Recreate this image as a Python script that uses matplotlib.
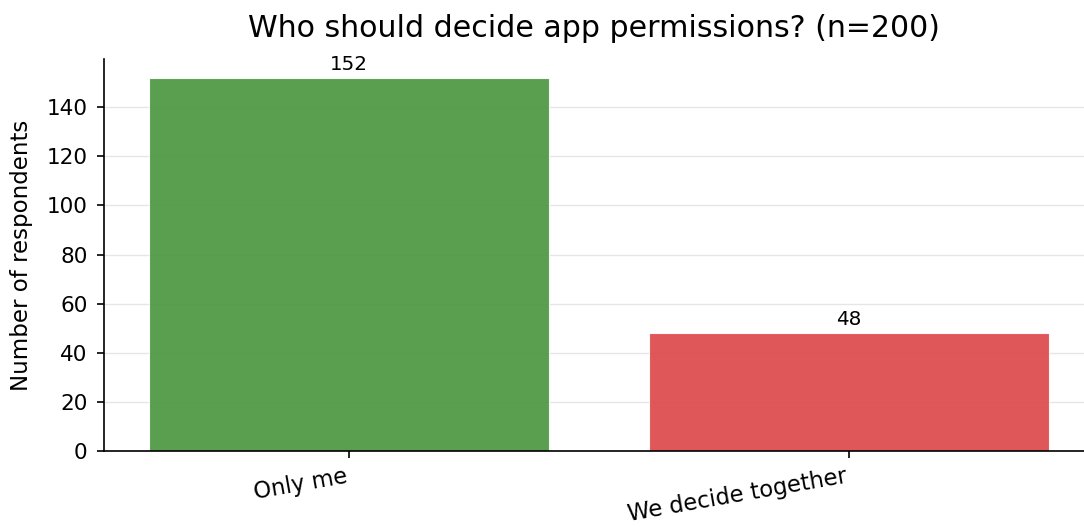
import matplotlib.pyplot as plt

# Survey answers
categories = ["Only me", "We decide together"]
counts = [152, 48]
colors = ["#48953d", "#dd4548"]

fig = plt.figure(figsize=(10.84, 5.27), dpi=100)
ax = fig.add_axes([0.096, 0.144, 0.904, 0.744])

bars = ax.bar(categories, counts, color=colors, width=0.8, alpha=0.9,
              edgecolor="white", linewidth=0.8)
ax.bar_label(bars, labels=[str(c) for c in counts], padding=3, fontsize=14.3)

ax.set_title("Who should decide app permissions? (n=200)", fontsize=21.6, pad=16)
ax.set_ylabel("Number of respondents", fontsize=16.5, labelpad=10)
ax.tick_params(axis="y", labelsize=15.5, length=5, width=1.2, pad=7)
ax.tick_params(axis="x", labelsize=16.3, length=5, width=1.2, pad=5)
plt.setp(ax.get_xticklabels(), rotation=10, ha="right")

ax.set_xlim(-0.49, 1.47)
ax.set_ylim(0, 159.6)
ax.yaxis.grid(True, color="#e6e6e6", linewidth=1)
ax.set_axisbelow(True)
ax.spines["top"].set_visible(False)
ax.spines["right"].set_visible(False)
ax.spines["left"].set_linewidth(1.2)
ax.spines["bottom"].set_linewidth(1.2)

fig.savefig("out.png", dpi=100)
